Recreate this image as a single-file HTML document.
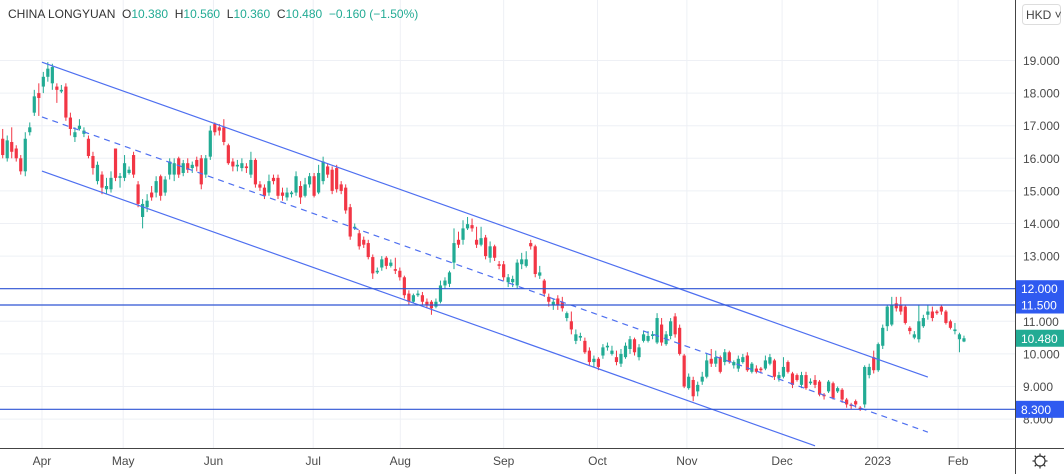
<!DOCTYPE html>
<html><head><meta charset="utf-8"><style>
body{margin:0;background:#fff;font-family:"Liberation Sans",sans-serif;}
#wrap{position:relative;width:1064px;height:474px;overflow:hidden;}
</style></head><body>
<div id="wrap">
<svg id="chart" width="1064" height="474"></svg>
</div>
<script>
const opens=[16.6,16.0,16.5,16.3,16.0,15.6,16.8,17.4,18.0,18.2,18.5,18.3,18.2,18.05,18.2,17.25,16.65,16.9,16.75,16.6,16.07,15.3,15.5,15.05,15.05,16.3,15.4,15.4,15.55,16.1,15.2,14.2,14.5,14.95,14.95,15.45,14.95,15.5,15.5,16.0,15.55,15.85,15.7,15.95,16.0,15.5,16.05,17.05,16.95,16.95,16.4,15.9,15.75,15.7,15.75,15.5,15.95,15.2,15.1,14.95,15.4,15.4,14.95,14.8,14.9,14.95,15.15,14.85,15.2,15.45,14.95,15.3,15.75,15.65,15.7,15.2,15.1,14.5,13.85,13.7,13.5,13.4,12.97,12.5,12.65,12.95,12.7,12.6,12.55,12.35,11.85,11.6,11.8,11.8,11.6,11.6,11.45,11.6,12.1,12.15,12.8,13.5,13.5,13.85,13.95,13.5,13.35,13.57,12.95,13.3,12.75,12.75,12.2,12.2,12.1,12.75,12.7,13.4,13.3,12.4,12.25,11.75,11.5,11.7,11.6,11.1,11.0,10.4,10.5,10.4,10.1,9.75,9.85,9.95,10.2,10.0,9.9,9.7,9.9,10.15,10.45,9.9,10.4,10.4,10.55,10.35,10.9,10.3,10.55,11.15,10.8,9.95,8.95,9.2,8.85,9.15,9.3,9.85,9.7,9.9,9.75,10.05,9.65,9.55,9.75,9.95,9.45,9.55,9.55,9.55,9.7,9.8,9.25,9.3,9.75,9.4,9.35,9.05,9.35,9.1,9.2,9.15,8.75,8.85,9.1,8.85,8.9,8.6,8.45,8.55,8.35,8.45,9.35,9.9,9.5,10.25,10.85,10.9,11.55,11.5,11.45,10.8,10.5,10.45,10.85,11.2,11.3,11.3,11.45,11.3,11.0,10.7,10.45,10.38];
const closes=[16.1,16.55,16.2,16.0,15.6,16.6,16.95,17.9,17.85,18.5,18.75,18.8,18.1,18.1,17.25,16.9,16.8,17.0,16.85,16.07,15.7,15.8,15.1,15.15,15.4,15.4,15.45,15.85,15.65,15.5,14.6,14.6,14.7,14.8,15.3,14.85,15.35,15.9,15.85,15.5,15.85,15.65,15.8,15.75,15.2,16.0,16.85,16.8,16.85,16.5,15.85,15.75,15.8,15.85,15.7,15.95,15.2,15.1,14.85,15.3,15.3,14.85,14.85,14.95,14.95,15.45,14.8,15.2,15.45,14.85,15.55,15.9,15.5,15.0,15.05,15.0,14.4,13.6,13.9,13.3,13.35,12.97,12.47,12.55,12.9,12.7,12.8,12.55,12.35,11.8,11.6,11.8,11.85,11.6,11.5,11.4,11.6,12.1,12.25,12.5,13.4,13.35,13.85,13.98,13.85,13.35,13.55,13.0,13.3,12.95,12.7,12.35,12.35,12.3,12.8,12.9,12.9,13.3,12.45,12.5,11.85,11.6,11.6,11.5,11.4,11.25,10.75,10.6,10.55,10.05,9.75,9.85,9.6,10.2,10.25,10.1,9.75,10.0,10.25,10.45,10.05,10.2,10.6,10.55,10.6,11.1,10.35,10.6,11.0,10.6,10.0,9.0,9.3,8.7,9.05,9.3,9.8,9.7,9.9,9.45,10.05,9.75,9.75,9.85,9.9,9.5,9.7,9.45,9.5,9.8,9.9,9.3,9.35,9.6,9.45,9.05,9.2,9.35,8.95,9.15,9.05,8.75,8.7,9.15,8.65,8.95,8.6,8.45,8.4,8.45,8.3,9.6,9.6,9.5,10.3,10.8,11.45,11.5,11.4,11.3,10.95,10.7,10.6,11.0,11.1,11.3,11.1,11.25,11.3,10.95,10.8,10.75,10.6,10.48];
const highs=[16.9,16.7,16.95,16.4,16.1,16.8,17.1,18.1,18.3,18.65,18.95,18.9,18.3,18.25,18.3,17.4,16.95,17.2,16.95,16.7,16.2,15.9,15.6,15.4,15.6,16.3,15.55,16.1,15.75,16.2,15.3,14.75,14.9,15.15,15.45,15.5,15.45,16.0,16.0,16.05,15.95,16.0,15.9,16.05,16.1,16.1,17.0,17.1,17.05,17.2,16.45,16.0,15.95,16.0,15.85,16.2,16.0,15.3,15.2,15.5,15.5,15.5,15.1,15.1,15.0,15.6,15.3,15.4,15.55,15.55,15.8,16.05,15.85,15.75,15.8,15.3,15.2,14.6,14.0,13.8,13.6,13.5,13.05,12.65,13.0,13.0,12.9,12.95,12.65,12.4,11.95,11.85,11.95,11.9,11.7,11.65,11.7,12.25,12.35,12.55,13.85,13.75,14.1,14.2,14.15,13.9,13.9,13.65,13.45,13.35,12.85,12.85,12.45,12.4,12.9,13.1,13.15,13.5,13.35,12.7,12.3,11.85,11.7,11.8,11.75,11.3,11.3,10.75,10.65,10.5,10.2,9.95,9.9,10.3,10.35,10.25,10.1,10.15,10.35,10.55,10.5,10.3,10.7,10.7,10.7,11.25,11.1,10.7,11.1,11.25,10.9,10.0,9.4,9.3,9.15,9.45,10.0,10.15,10.1,9.95,10.15,10.1,9.8,9.95,10.0,10.05,9.75,9.65,9.6,9.95,10.0,9.85,9.45,9.9,9.8,9.45,9.4,9.45,9.45,9.25,9.35,9.2,8.8,9.2,9.15,9.0,8.95,8.65,8.5,8.6,8.4,9.65,9.7,10.1,10.35,10.9,11.5,11.75,11.75,11.75,11.5,10.85,10.7,11.5,11.2,11.5,11.45,11.35,11.5,11.35,11.05,10.95,10.65,10.56];
const lows=[16.0,15.9,16.0,15.9,15.5,15.45,16.7,17.3,17.3,18.0,18.35,18.1,17.7,18.0,17.15,16.7,16.5,16.85,16.65,16.0,15.5,15.2,14.9,14.9,14.95,15.3,15.1,15.3,15.5,15.4,14.5,13.85,14.35,14.7,14.8,14.7,14.85,15.35,15.3,15.4,15.45,15.55,15.55,15.6,15.05,15.4,15.95,16.7,16.7,16.4,15.8,15.6,15.6,15.6,15.55,15.4,15.1,15.0,14.75,14.85,15.2,14.75,14.7,14.7,14.8,14.85,14.6,14.8,15.1,14.8,14.9,15.2,15.4,14.9,14.95,14.9,14.3,13.5,13.8,13.2,13.25,12.9,12.3,12.45,12.55,12.6,12.65,12.45,12.25,11.7,11.5,11.55,11.75,11.5,11.4,11.2,11.4,11.55,12.0,12.05,12.6,13.25,13.35,13.8,13.75,13.25,13.3,12.9,12.8,12.85,12.6,12.25,12.05,12.05,12.0,12.6,12.65,13.2,12.35,12.3,11.75,11.45,11.35,11.35,11.3,11.0,10.6,10.3,10.4,10.0,9.65,9.6,9.5,9.85,10.1,9.95,9.65,9.6,9.85,10.0,9.95,9.8,10.35,10.35,10.45,10.3,10.25,10.25,10.45,10.5,9.95,8.95,8.9,8.55,8.7,9.05,9.25,9.6,9.6,9.4,9.65,9.7,9.55,9.45,9.7,9.45,9.4,9.4,9.4,9.5,9.65,9.2,9.15,9.25,9.4,8.95,9.15,8.95,8.9,9.05,8.95,8.7,8.6,8.8,8.6,8.8,8.5,8.35,8.3,8.35,8.25,8.35,9.25,9.4,9.45,10.15,10.7,10.85,11.3,11.2,10.9,10.6,10.45,10.35,10.8,11.05,11.0,11.2,11.2,10.9,10.75,10.6,10.05,10.36];
const monthLabels=["Apr","May","Jun","Jul","Aug","Sep","Oct","Nov","Dec","2023","Feb"];
const monthIdx=[8.7,26.7,46.7,68.8,88.1,111,131.8,151.6,172.7,193.9,211.7];
const priceTicks=[8,9,10,11,12,13,14,15,16,17,18,19];
const hLevels=[12.0,11.5,8.3];
const channelUpper=[[8.7,18.95],[205,9.29]];
const channelMid=[[8.7,17.27],[205,7.6]];
const channelLower=[[8.7,15.61],[180,7.18]];
const lastClose=10.48;

const NS="http://www.w3.org/2000/svg";
const svg=document.getElementById('chart');
const PW=1015, PH=448;
function xS(i){return 2.7+i*4.513;}
function yS(v){return 60.5+(19-v)*32.6;}
function el(tag,attrs,parent){const e=document.createElementNS(NS,tag);for(const k in attrs)e.setAttribute(k,attrs[k]);(parent||svg).appendChild(e);return e;}

const grid=el('g',{});


priceTicks.forEach(p=>{const l=el('line',{x1:0,x2:PW,y1:yS(p),y2:yS(p),stroke:'#eef0f5','stroke-width':1},grid);

});
monthIdx.forEach(m=>{const l=el('line',{x1:xS(m),x2:xS(m),y1:0,y2:PH,stroke:'#eef0f5','stroke-width':1},grid);

});

const cg=el('g',{});


for(let i=0;i<opens.length;i++){
 const up=closes[i]>=opens[i]; const col=up?'#22ab94':'#f23645';
 const x=xS(i);
 const g=el('g',{},cg);
 
 
 el('line',{x1:x,x2:x,y1:yS(highs[i]),y2:yS(lows[i]),stroke:col,'stroke-width':1},g);
 const yt=yS(Math.max(opens[i],closes[i])), yb=yS(Math.min(opens[i],closes[i]));
 el('rect',{x:x-1.6,y:yt,width:3.2,height:Math.max(1,yb-yt),fill:col},g);
}

const ln=el('g',{});


[[channelUpper,'channel-upper',''],[channelMid,'channel-median','6,5'],[channelLower,'channel-lower','']].forEach(([pts,nm,da])=>{
 const l=el('line',{x1:xS(pts[0][0]),y1:yS(pts[0][1]),x2:xS(pts[1][0]),y2:yS(pts[1][1]),stroke:'#4e6ff0','stroke-width':1.2,'stroke-dasharray':da},ln);
 
 
});
hLevels.forEach(p=>{const l=el('line',{x1:0,x2:PW,y1:yS(p),y2:yS(p),stroke:'#2f55d4','stroke-width':1.2},ln);

});

// axes
const ax=el('g',{});


el('line',{x1:PW+0.5,x2:PW+0.5,y1:0,y2:474,stroke:'#444','stroke-width':1},ax);
el('line',{x1:0,x2:1064,y1:PH+0.5,y2:PH+0.5,stroke:'#444','stroke-width':1},ax);
priceTicks.forEach(p=>{const t=el('text',{x:1023,y:yS(p)+4.5,'font-size':12,fill:'#4a4a4a','font-family':'Liberation Sans, sans-serif'},ax);t.textContent=p.toFixed(3);

});
monthLabels.forEach((m,k)=>{const t=el('text',{x:xS(monthIdx[k]),y:465,'font-size':12,fill:'#4a4a4a','text-anchor':'middle','font-family':'Liberation Sans, sans-serif'},ax);t.textContent=m;

});

function badge(v,col,name){
 const g=el('g',{});
 
 
 const y=yS(v);
 el('rect',{x:PW+1,y:y-8.5,width:48,height:17,fill:col},g);
 const t=el('text',{x:1021,y:y+4.5,'font-size':12,fill:'#fff','font-family':'Liberation Sans, sans-serif'},g);t.textContent=v.toFixed(3);
}
hLevels.forEach(p=>badge(p,'#2f5af0','level-price-badge'));
badge(lastClose,'#22ab94','last-price-badge');

// legend
const lg=el('text',{x:8,y:18,'font-size':12,'font-family':'Liberation Sans, sans-serif',fill:'#333'});


lg.innerHTML='CHINA LONGYUAN&#160;&#160;O<tspan fill="#22ab94">10.380</tspan>&#160;&#160;H<tspan fill="#22ab94">10.560</tspan>&#160;&#160;L<tspan fill="#22ab94">10.360</tspan>&#160;&#160;C<tspan fill="#22ab94">10.480</tspan>&#160;&#160;<tspan fill="#22ab94">−0.160 (−1.50%)</tspan>';

// currency button
const cb=el('g',{});


el('rect',{x:1022.5,y:4.5,width:38,height:20,rx:3,fill:'#fff',stroke:'#ddd'},cb);
const ct=el('text',{x:1026,y:19,'font-size':12,fill:'#444','font-family':'Liberation Sans, sans-serif'},cb);ct.textContent='HKD ˅';

// settings icon
const gi=el('g',{});


el('circle',{cx:1040,cy:461,r:5,fill:'none',stroke:'#333','stroke-width':1.2},gi);
for(let a=0;a<8;a++){const r=a*Math.PI/4;el('line',{x1:1040+5*Math.cos(r),y1:461+5*Math.sin(r),x2:1040+7.5*Math.cos(r),y2:461+7.5*Math.sin(r),stroke:'#333','stroke-width':1.2},gi);}
</script>
</body></html>
